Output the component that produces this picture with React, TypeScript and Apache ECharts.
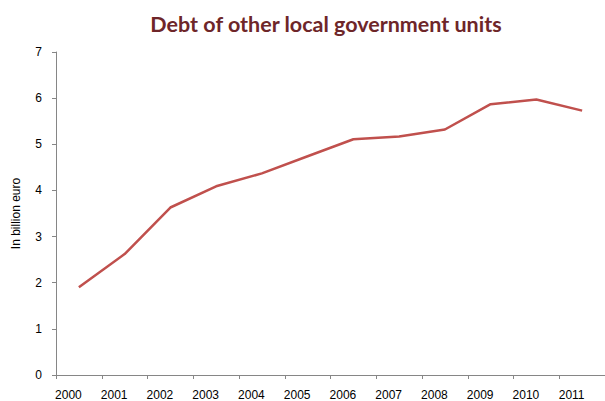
import React, { useEffect, useRef } from "react";
import * as echarts from "echarts";

const years = ["2000", "2001", "2002", "2003", "2004", "2005", "2006", "2007", "2008", "2009", "2010", "2011"];
const debt = [1.9, 2.62, 3.63, 4.09, 4.37, 4.74, 5.11, 5.17, 5.32, 5.87, 5.97, 5.73];
const yTicks = { min: 0, max: 7, interval: 1 };

export default function App() {
  const ref = useRef<HTMLDivElement>(null);
  useEffect(() => {
    if (!ref.current) return;
    const chart = echarts.init(ref.current, undefined, { renderer: "svg" });
    chart.setOption({
      animation: false,
      backgroundColor: "#ffffff",
      title: {
        text: "Debt of other local government units",
        left: 321,
        textAlign: "center",
        top: 8,
        textStyle: { fontFamily: "Lato", fontWeight: "bold", fontSize: 21.5, color: "#6E2629" },
      },
      grid: { left: 56, top: 52, bottom: 26, width: 563, containLabel: false },
      xAxis: {
        type: "category",
        data: years,
        boundaryGap: true,
        axisLine: { lineStyle: { color: "#868686", width: 1 } },
        axisTick: { show: true, length: 4, alignWithLabel: false, lineStyle: { color: "#868686" } },
        axisLabel: {
          color: "#000",
          fontFamily: "Liberation Sans",
          fontSize: 12,
          margin: 14,
          padding: [0, 21, 0, 0],
          interval: 0,
        },
      },
      yAxis: {
        type: "value",
        min: yTicks.min,
        max: yTicks.max,
        interval: yTicks.interval,
        name: "In billion euro",
        nameLocation: "middle",
        nameGap: 34,
        nameTextStyle: { fontFamily: "Liberation Sans", fontSize: 12, color: "#000" },
        splitLine: { show: false },
        axisLine: { show: true, lineStyle: { color: "#868686", width: 1 } },
        axisTick: { show: true, length: 4, lineStyle: { color: "#868686" } },
        axisLabel: { color: "#000", fontFamily: "Liberation Sans", fontSize: 12, margin: 14 },
      },
      series: [
        {
          type: "line",
          data: debt,
          symbol: "none",
          lineStyle: { color: "#C0504D", width: 2.5 },
        },
      ],
    });
    return () => chart.dispose();
  }, []);
  return <div ref={ref} style={{ position: "fixed", left: 0, top: 0, width: 605, height: 401 }} />;
}
